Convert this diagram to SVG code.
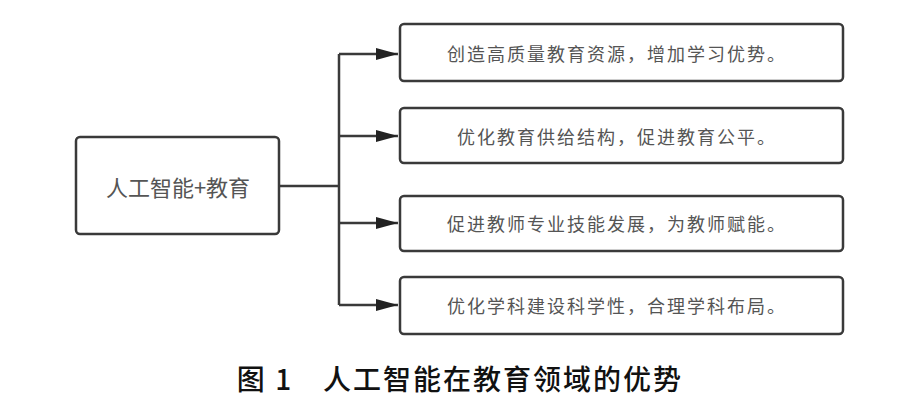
<svg xmlns="http://www.w3.org/2000/svg" width="911" height="404" viewBox="0 0 911 404">
<style>
.box{fill:#fff;stroke:#3a3a3a;stroke-width:2.5}
.t{font-family:"Noto Sans CJK SC",sans-serif;font-size:18px;letter-spacing:2px;fill:#555;text-anchor:middle;dominant-baseline:central}
.c{fill:none;stroke:#3a3a3a;stroke-width:2.5}
</style>
<defs><marker id="ah" markerWidth="22" markerHeight="12" refX="22" refY="6" orient="auto" markerUnits="userSpaceOnUse"><path d="M0,0L22,6L0,12z" fill="#222"/></marker></defs>
<rect width="911" height="404" fill="#fff"/>
<g id="connectors">
<path class="c" d="M279,186H339M339,54V305"/>
<path class="c" d="M339,54H398" marker-end="url(#ah)"/>
<path class="c" d="M339,136H398" marker-end="url(#ah)"/>
<path class="c" d="M339,223H398" marker-end="url(#ah)"/>
<path class="c" d="M339,305H398" marker-end="url(#ah)"/>
</g>
<g id="main"><rect class="box" x="76" y="137" width="203" height="97" rx="4"/><text class="t" x="178" y="186" style="font-size:22px;letter-spacing:0">人工智能+教育</text></g>
<g id="n1"><rect class="box" x="400" y="24" width="443" height="57" rx="4"/><text class="t" x="617" y="53">创造高质量教育资源，增加学习优势。</text></g>
<g id="n2"><rect class="box" x="400" y="108" width="443" height="55" rx="4"/><text class="t" x="617" y="136">优化教育供给结构，促进教育公平。</text></g>
<g id="n3"><rect class="box" x="400" y="196" width="443" height="55" rx="4"/><text class="t" x="617" y="223">促进教师专业技能发展，为教师赋能。</text></g>
<g id="n4"><rect class="box" x="400" y="277" width="443" height="57" rx="4"/><text class="t" x="617" y="305">优化学科建设科学性，合理学科布局。</text></g>
<text x="460" y="378" style="font-family:'Noto Sans CJK SC',serif;font-size:28px;font-weight:500;letter-spacing:2px;fill:#111;text-anchor:middle;dominant-baseline:central">图 1　人工智能在教育领域的优势</text>
</svg>
